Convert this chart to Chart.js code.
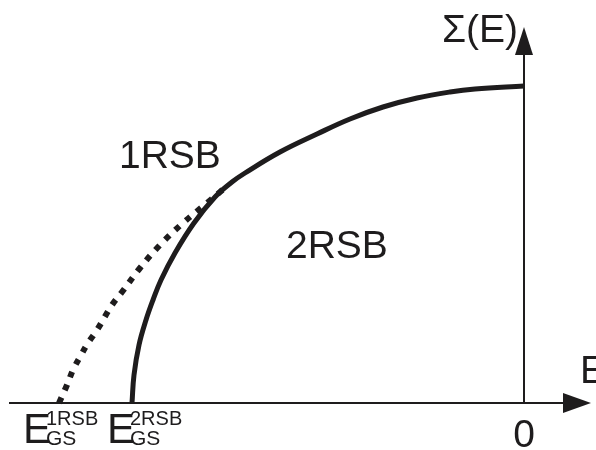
<!DOCTYPE html>
<html>
<head>
<meta charset="utf-8">
<script src="https://cdn.jsdelivr.net/npm/chart.js@4.4.1/dist/chart.umd.min.js"></script>
<style>
  html, body { margin: 0; padding: 0; background: #fff; }
  #wrap { width: 596px; height: 450px; }
</style>
</head>
<body>
<div id="wrap"><canvas id="sigmaChart"></canvas></div>
<script>
// Complexity Sigma(E) against energy E (arbitrary units, E = 0 at the right axis)
const energy2RSB = [-3.92, -3.90, -3.85, -3.78, -3.71, -3.63, -3.49, -3.30, -3.09, -2.92, -2.79, -2.44, -2.07, -1.74, -1.41, -1.07, -0.74, -0.49, 0];
const sigma2RSB  = [0, 0.28, 0.58, 0.83, 1.03, 1.23, 1.50, 1.80, 2.06, 2.21, 2.30, 2.51, 2.69, 2.84, 2.96, 3.05, 3.11, 3.14, 3.17];

// 1RSB branch, below the point where it leaves the 2RSB curve
const energy1RSB = [-4.65, -4.57, -4.51, -4.44, -4.36, -4.27, -4.12, -4.02, -3.84, -3.64, -3.41, -3.17, -3.04, -2.99];
const sigma1RSB  = [0, 0.18, 0.33, 0.46, 0.60, 0.73, 0.98, 1.11, 1.35, 1.58, 1.80, 2.00, 2.11, 2.15];

// axis ranges
const energyRange = [-5.15, 0.67];
const sigmaRange = [0, 3.76];

const ink = "#1e1c1d";
const font = "'Liberation Sans', Arial, sans-serif";

function toPoints(xs, ys) {
  return xs.map((x, i) => ({ x: x, y: ys[i] }));
}

// arrows for both axes, crossing at (0, 0)
const axesPlugin = {
  id: "arrowAxes",
  beforeDatasetsDraw(chart) {
    const ctx = chart.ctx;
    const area = chart.chartArea;
    const x0 = chart.scales.x.getPixelForValue(0);
    const y0 = chart.scales.y.getPixelForValue(0);
    ctx.save();
    ctx.strokeStyle = ink;
    ctx.fillStyle = ink;
    ctx.lineWidth = 2;

    ctx.beginPath();
    ctx.moveTo(area.left, y0);
    ctx.lineTo(area.right - 20, y0);
    ctx.moveTo(x0, y0);
    ctx.lineTo(x0, area.top + 20);
    ctx.stroke();

    ctx.beginPath();
    ctx.moveTo(area.right, y0);
    ctx.lineTo(area.right - 28, y0 - 10);
    ctx.lineTo(area.right - 28, y0 + 10);
    ctx.closePath();
    ctx.fill();

    ctx.beginPath();
    ctx.moveTo(x0, area.top);
    ctx.lineTo(x0 - 9, area.top + 28);
    ctx.lineTo(x0 + 9, area.top + 28);
    ctx.closePath();
    ctx.fill();
    ctx.restore();
  }
};

// axis names, region names and the two ground-state energies
const labelPlugin = {
  id: "labels",
  afterDraw(chart) {
    const ctx = chart.ctx;
    const sx = chart.scales.x;
    const sy = chart.scales.y;
    const y0 = sy.getPixelForValue(0);
    const x0 = sx.getPixelForValue(0);
    ctx.save();
    ctx.fillStyle = ink;
    ctx.textBaseline = "alphabetic";

    ctx.font = "39px " + font;
    ctx.textAlign = "right";
    ctx.fillText("Σ(E)", x0 - 6, 42);
    ctx.textAlign = "left";
    ctx.fillText("E", 580, y0 - 20);
    ctx.textAlign = "center";
    ctx.fillText("0", x0, y0 + 44);

    ctx.textAlign = "left";
    ctx.fillText("1RSB", 119, 168);
    ctx.fillText("2RSB", 286, 258);

    function groundState(startE, tag, dx) {
      const left = sx.getPixelForValue(startE) + dx;
      ctx.font = "42px " + font;
      ctx.fillText("E", left, y0 + 40);
      ctx.font = "20px " + font;
      ctx.fillText(tag, left + 23, y0 + 22);
      ctx.font = "21px " + font;
      ctx.fillText("GS", left + 23, y0 + 42);
    }
    groundState(energy1RSB[0], "1RSB", -36);
    groundState(energy2RSB[0], "2RSB", -25);
    ctx.restore();
  }
};

new Chart(document.getElementById("sigmaChart"), {
  type: "scatter",
  data: {
    datasets: [
      {
        label: "2RSB",
        data: toPoints(energy2RSB, sigma2RSB),
        showLine: true,
        borderColor: ink,
        borderWidth: 5,
        borderCapStyle: "butt",
        pointRadius: 0,
        tension: 0.4,
        clip: false
      },
      {
        label: "1RSB",
        data: toPoints(energy1RSB, sigma1RSB),
        showLine: true,
        borderColor: ink,
        borderWidth: 6,
        borderDash: [6, 8],
        borderCapStyle: "butt",
        pointRadius: 0,
        tension: 0.4,
        clip: false
      }
    ]
  },
  options: {
    responsive: true,
    maintainAspectRatio: false,
    animation: false,
    layout: { padding: { left: 9, right: 5, top: 27, bottom: 47 } },
    scales: {
      x: { type: "linear", min: energyRange[0], max: energyRange[1], display: false },
      y: { type: "linear", min: sigmaRange[0], max: sigmaRange[1], display: false }
    },
    plugins: {
      legend: { display: false },
      tooltip: { enabled: false }
    }
  },
  plugins: [axesPlugin, labelPlugin]
});
</script>
</body>
</html>
